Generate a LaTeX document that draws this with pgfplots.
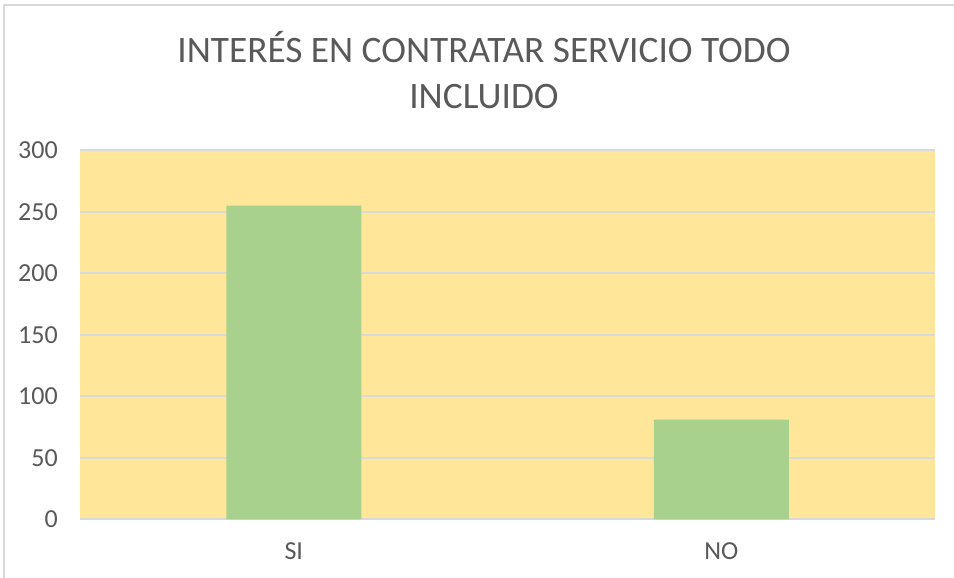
\documentclass[border=0pt]{standalone}
\usepackage{pgfplots}
\pgfplotsset{compat=1.18}
\usepackage{fontspec}
\setmainfont{Carlito}
\definecolor{txtGray}{HTML}{595959}
\definecolor{gridGray}{HTML}{D9D9D9}
\definecolor{bgGold}{HTML}{FFE699}
\definecolor{barGreen}{HTML}{A9D18E}

\begin{document}
\begin{tikzpicture}
  \path[use as bounding box] (0,0) rectangle (715.5pt,433.5pt);
  \draw[gridGray,line width=1.1pt] (3pt,0) -- (3pt,429.75pt) -- (715.5pt,429.75pt);
  \node[anchor=base,text=txtGray,font=\fontsize{28}{34}\selectfont] at (363pt,386.5pt)
    {INTERÉS EN CONTRATAR SERVICIO TODO};
  \node[anchor=base,text=txtGray,font=\fontsize{28}{34}\selectfont] at (363pt,352pt)
    {INCLUIDO};
  \begin{axis}[
    at={(60pt,44pt)},anchor=south west,
    scale only axis,
    width=641.25pt,height=276.75pt,
    ybar,
    bar width=101.25pt,
    xmin=-0.5,xmax=1.5,
    ymin=0,ymax=300,
    xtick=data,
    xticklabels={SI,NO},
    ytick={0,50,100,150,200,250,300},
    major tick length=0pt,
    axis line style={draw=none},
    axis background/.style={fill=bgGold},
    ymajorgrids,
    grid style={draw=gridGray,line width=1.4pt},
    tick label style={text=txtGray,font=\fontsize{19.5}{22}\selectfont,inner sep=0pt},
    yticklabel style={anchor=east,xshift=-16.5pt},
    xticklabel style={anchor=north,yshift=-17pt},
    /pgf/number format/assume math mode=true,
  ]
    \addplot[fill=barGreen,draw=none] coordinates {(0,255) (1,81)};
  \end{axis}
\end{tikzpicture}
\end{document}
